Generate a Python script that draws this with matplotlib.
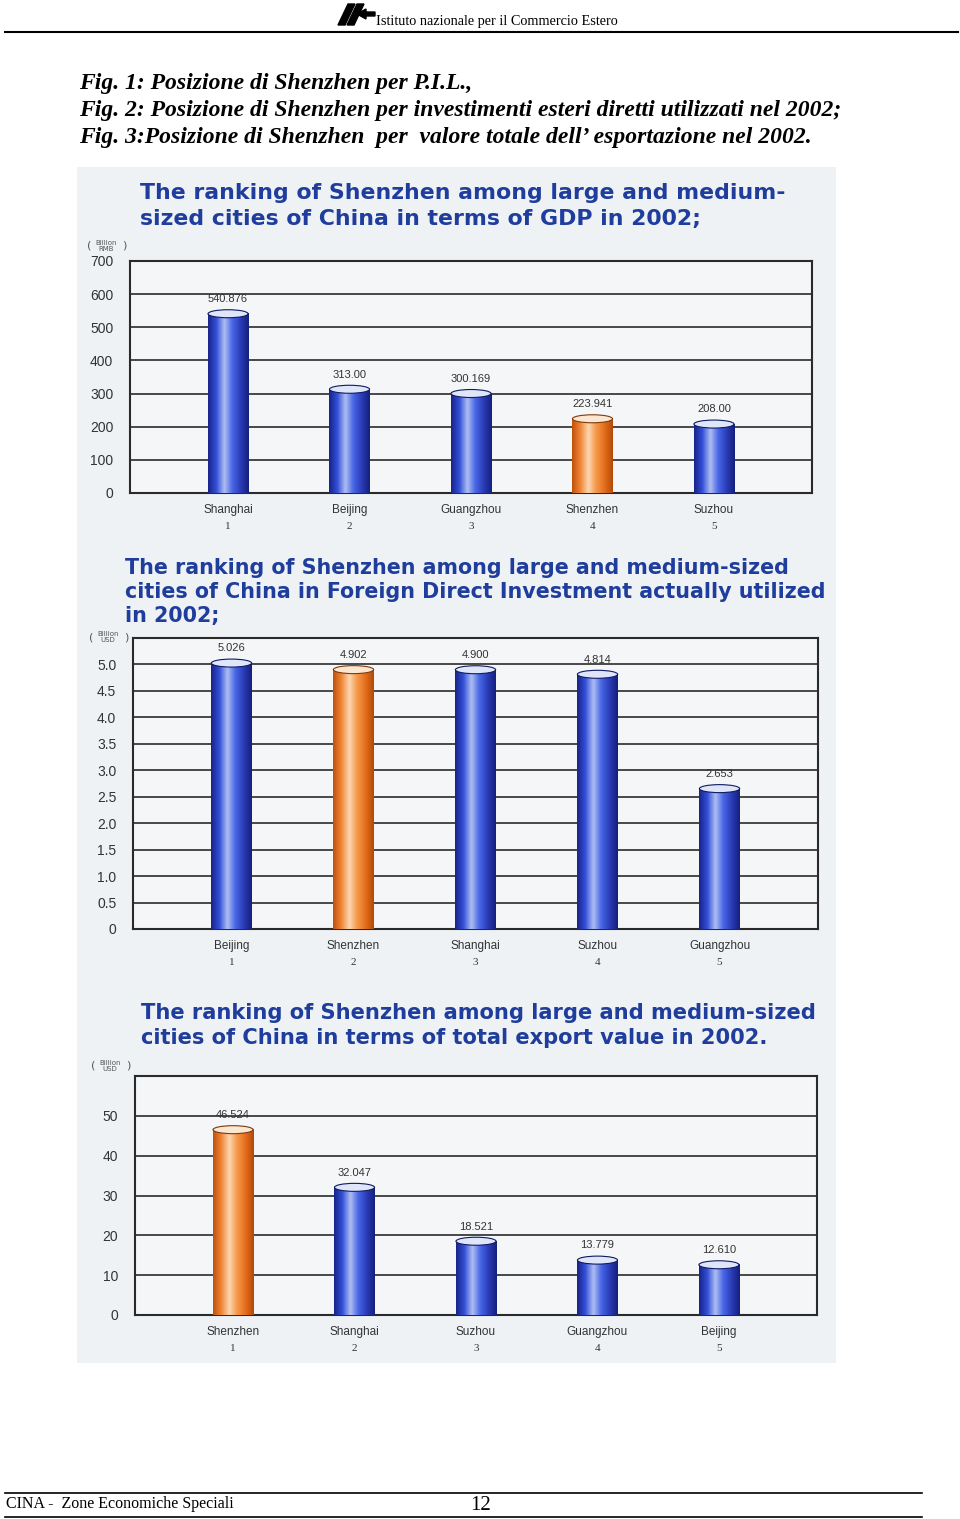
import matplotlib.pyplot as plt
import numpy as np
from matplotlib.patches import Ellipse, Polygon
from matplotlib.colors import LinearSegmentedColormap

W, H = 960, 1519

# chart data
gdp_cities = ["Shanghai", "Beijing", "Guangzhou", "Shenzhen", "Suzhou"]
gdp_values = [540.876, 313.00, 300.169, 223.941, 208.00]
gdp_labels = ["540.876", "313.00", "300.169", "223.941", "208.00"]

fdi_cities = ["Beijing", "Shenzhen", "Shanghai", "Suzhou", "Guangzhou"]
fdi_values = [5.026, 4.902, 4.900, 4.814, 2.653]
fdi_labels = ["5.026", "4.902", "4.900", "4.814", "2.653"]

exp_cities = ["Shenzhen", "Shanghai", "Suzhou", "Guangzhou", "Beijing"]
exp_values = [46.524, 32.047, 18.521, 13.779, 12.610]
exp_labels = ["46.524", "32.047", "18.521", "13.779", "12.610"]

ranks = ["1", "2", "3", "4", "5"]

blue_cm = LinearSegmentedColormap.from_list(
    "cyl_b", ["#18248a", "#3350d8", "#aebdf2", "#4766e6", "#2a3cb8", "#16207c"])
orange_cm = LinearSegmentedColormap.from_list(
    "cyl_o", ["#c0520c", "#f08636", "#fcd6b0", "#f59646", "#e46e1c", "#b44a08"])

TITLE_C = "#1f3d9c"
PANEL_C = "#eef2f5"


def px_rect(x0, y0, x1, y1):
    return [x0 / W, 1 - y1 / H, (x1 - x0) / W, (y1 - y0) / H]


fig = plt.figure(figsize=(W / 100, H / 100), dpi=100)

# header
fig.add_artist(plt.Line2D([5 / W, 958 / W], [1 - 32 / H] * 2, color="black", lw=1.5))
for pts in ([(338, 25), (345, 25), (355, 4), (348, 4)],
            [(347, 25), (354, 25), (364, 4), (357, 4)]):
    fig.add_artist(Polygon([(x / W, 1 - y / H) for x, y in pts], closed=True,
                           color="black", transform=fig.transFigure))
fig.add_artist(Polygon([(x / W, 1 - y / H) for x, y in
                        [(357, 14), (366, 9), (366, 12), (375, 12), (375, 16), (366, 16), (366, 19)]],
                       closed=True, color="black", transform=fig.transFigure))
fig.text(376 / W, 1 - 21 / H, "Istituto nazionale per il Commercio Estero",
         family="Liberation Serif", fontsize=10.3, va="center", ha="left")

head_lines = [
    "Fig. 1: Posizione di Shenzhen per P.I.L.,",
    "Fig. 2: Posizione di Shenzhen per investimenti esteri diretti utilizzati nel 2002;",
    "Fig. 3:Posizione di Shenzhen  per  valore totale dell\u2019 esportazione nel 2002.",
]
for i, t in enumerate(head_lines):
    fig.text(79 / W, 1 - (83 + 27.5 * i) / H, t, family="Liberation Serif",
             style="italic", fontweight="bold", fontsize=17, va="center", ha="left")

# panel background
bg = fig.add_axes(px_rect(77, 167, 836, 1363))
bg.set_facecolor(PANEL_C)
bg.set_xticks([])
bg.set_yticks([])
for s in bg.spines.values():
    s.set_visible(False)


def cylinder_chart(rect, cities, values, labels, hi_idx, ymax, ticks, tick_labels,
                   unit, title, title_xy, title_fs, title_ls, unit_xy):
    ax = fig.add_axes(px_rect(*rect))
    ax.set_facecolor("#f4f6f8")
    x = np.arange(len(values))
    bw = 0.33
    ax_h_px = rect[3] - rect[1]
    cap_h = 8 * ymax / ax_h_px
    grad = np.linspace(0, 1, 64).reshape(1, -1)
    for i, v in enumerate(values):
        cm = orange_cm if i == hi_idx else blue_cm
        ax.imshow(grad, cmap=cm, aspect="auto", extent=(x[i] - bw / 2, x[i] + bw / 2, 0, v),
                  zorder=3, interpolation="bilinear")
        edge = "#7a3a10" if i == hi_idx else "#101a60"
        ax.add_patch(Ellipse((x[i], v), bw, cap_h,
                             facecolor="#fde6d0" if i == hi_idx else "#dfe6fa",
                             edgecolor=edge, lw=0.8, zorder=4))
        ax.annotate(labels[i], (x[i], v), xytext=(0, 7), textcoords="offset points",
                    ha="center", va="bottom", fontsize=8, color="#333333",
                    family="Liberation Sans")
        ax.annotate(cities[i], (x[i], 0), xycoords=("data", "axes fraction"),
                    xytext=(0, -12), textcoords="offset points", ha="center", va="center",
                    fontsize=8.5, color="#333333", family="Liberation Sans")
        ax.annotate(ranks[i], (x[i], 0), xycoords=("data", "axes fraction"),
                    xytext=(0, -24), textcoords="offset points", ha="center", va="center",
                    fontsize=8, color="#333333", family="Liberation Serif")
    ax.set_xlim(-0.807, 4.807)
    ax.set_ylim(0, ymax)
    ax.set_yticks(ticks)
    ax.set_yticklabels(tick_labels, fontsize=10, color="#333333", family="Liberation Sans")
    ax.tick_params(axis="y", length=0, pad=12)
    ax.set_xticks([])
    for t in ticks:
        ax.axhline(t, color="#3a3a3a", lw=1.3, zorder=1)
    for s in ax.spines.values():
        s.set_color("#2a2a2a")
        s.set_linewidth(1.5)
    fig.text(title_xy[0] / W, 1 - title_xy[1] / H, title, fontsize=title_fs, fontweight="bold",
             color=TITLE_C, va="top", ha="left", linespacing=title_ls, family="DejaVu Sans")
    fig.text(unit_xy[0] / W, 1 - unit_xy[1] / H, "(", fontsize=8, color="#555555",
             va="center", ha="center")
    fig.text((unit_xy[0] + 17) / W, 1 - unit_xy[1] / H, unit, fontsize=5, color="#555555",
             va="center", ha="center", linespacing=1.1)
    fig.text((unit_xy[0] + 35) / W, 1 - unit_xy[1] / H, ")", fontsize=8, color="#555555",
             va="center", ha="center")
    return ax


cylinder_chart((130, 261, 812, 493), gdp_cities, gdp_values, gdp_labels, 3, 700,
               list(range(0, 701, 100)), [str(t) for t in range(0, 701, 100)],
               "Billion\nRMB",
               "The ranking of Shenzhen among large and medium-\nsized cities of China in terms of GDP in 2002;",
               (140, 183), 15.8, 1.4, (89, 246))

fdi_ticks = [i * 0.5 for i in range(11)]
cylinder_chart((133, 638, 818, 929), fdi_cities, fdi_values, fdi_labels, 1, 5.5,
               fdi_ticks, ["0"] + ["%.1f" % t for t in fdi_ticks[1:]],
               "Billion\nUSD",
               "The ranking of Shenzhen among large and medium-sized\ncities of China in Foreign Direct Investment actually utilized\nin 2002;",
               (125, 558), 14.9, 1.24, (91, 637))

cylinder_chart((135, 1076, 817, 1315), exp_cities, exp_values, exp_labels, 0, 60,
               list(range(0, 51, 10)), [str(t) for t in range(0, 51, 10)],
               "Billion\nUSD",
               "The ranking of Shenzhen among large and medium-sized\ncities of China in terms of total export value in 2002.",
               (141, 1003), 15.1, 1.3, (93, 1066))

# footer
fig.add_artist(plt.Line2D([5 / W, 922 / W], [1 - 1493 / H] * 2, color="black", lw=1.2))
fig.add_artist(plt.Line2D([5 / W, 922 / W], [1 - 1517 / H] * 2, color="black", lw=1.2))
fig.text(6 / W, 1 - 1504 / H, "CINA -  Zone Economiche Speciali", family="Liberation Serif",
         fontsize=11.5, va="center", ha="left")
fig.text(481 / W, 1 - 1505 / H, "12", family="Liberation Serif", fontsize=15,
         va="center", ha="center")

fig.savefig("out.png", dpi=100)
